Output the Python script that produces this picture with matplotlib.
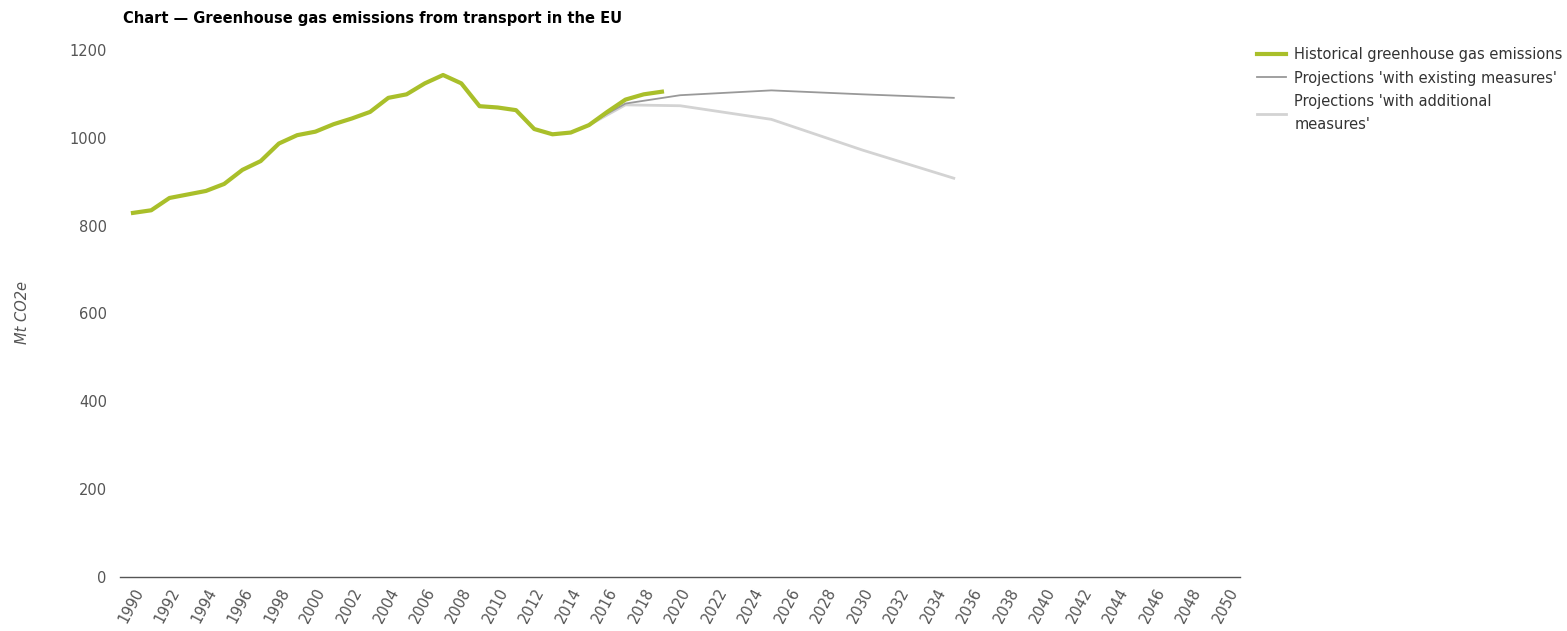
import numpy as np
import matplotlib
matplotlib.use("Agg")
import matplotlib.pyplot as plt

# historical emissions, Mt CO2e
hist_years = list(range(1990, 2020))
hist_values = [829, 835, 863, 871, 879, 895, 927, 947, 987, 1006,
               1014, 1031, 1044, 1059, 1091, 1099, 1124, 1143, 1124, 1072,
               1069, 1063, 1020, 1008, 1012, 1029, 1059, 1087, 1099, 1105]

# projections
proj_years = [2015, 2016, 2017, 2020, 2025, 2030, 2035]
wem_values = [1029, 1055, 1078, 1097, 1108, 1099, 1091]
wam_values = [1029, 1052, 1075, 1073, 1042, 972, 908]

tick_years = list(range(1990, 2051, 2))
y_ticks = [0, 200, 400, 600, 800, 1000, 1200]

green = "#a9bf2a"
dark_gray = "#999999"
light_gray = "#d3d3d3"
text_col = "#555555"

plt.rcParams['font.family'] = ['DejaVu Sans']
fs = 10.5

fig = plt.figure(figsize=(15.67, 6.31), dpi=100)
ax = fig.add_axes([0.0766, 0.0856, 0.7147, 0.8352])

ax.plot(proj_years, wam_values, color=light_gray, lw=2,
        label="Projections 'with additional\nmeasures'", zorder=2)
ax.plot(proj_years, wem_values, color=dark_gray, lw=1.3,
        label="Projections 'with existing measures'", zorder=3)
ax.plot(hist_years, hist_values, color=green, lw=3,
        label="Historical greenhouse gas emissions", zorder=4)

ax.set_xlim(1989.29, 2050.69)
ax.set_ylim(0, 1200)
ax.set_xticks(tick_years)
ax.set_xticklabels([str(y) for y in tick_years], rotation=62, ha='right',
                   rotation_mode='anchor', fontsize=fs, color=text_col)
ax.set_yticks(y_ticks)
ax.set_yticklabels([str(v) for v in y_ticks], fontsize=fs, color=text_col)
ax.tick_params(axis='both', length=0)
ax.tick_params(axis='y', pad=9.5)
ax.tick_params(axis='x', pad=6)

for s in ['top', 'right', 'left']:
    ax.spines[s].set_visible(False)
ax.spines['bottom'].set_color('#555555')
ax.spines['bottom'].set_linewidth(1)

fig.text(0.0145, 0.504, "Mt CO2e", rotation=90, style='italic',
         fontsize=fs, color=text_col, ha='center', va='center')
fig.text(0.0785, 0.971, "Chart \u2014 Greenhouse gas emissions from transport in the EU",
         fontsize=fs, fontweight='bold', color='black', ha='left', va='center')

handles, labels = ax.get_legend_handles_labels()
order = [2, 1, 0]
leg = fig.legend([handles[i] for i in order], [labels[i] for i in order],
                 loc='upper left', bbox_to_anchor=(0.7985, 0.935), frameon=False,
                 fontsize=fs, handlelength=2.0, handletextpad=0.55,
                 labelspacing=0.6, borderaxespad=0)
for t in leg.get_texts():
    t.set_color('#333333')
    t.set_linespacing(1.6)

fig.savefig("out.png", dpi=100)
